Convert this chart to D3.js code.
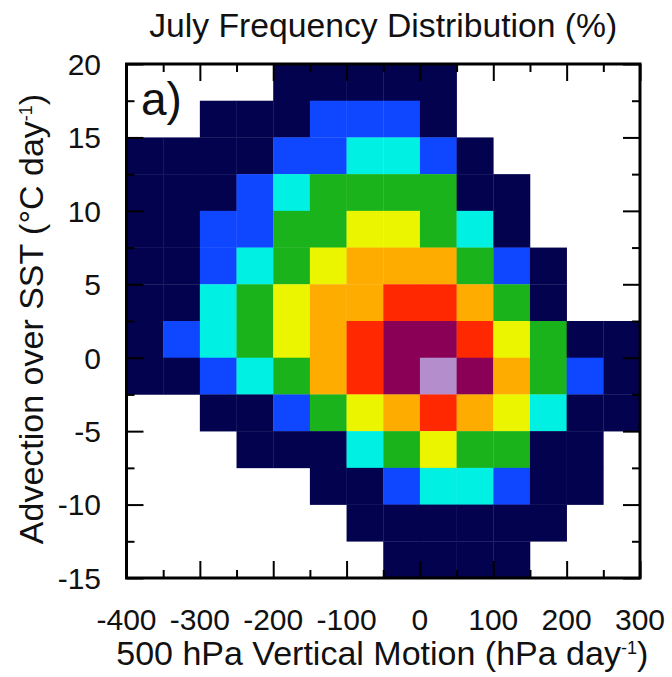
<!DOCTYPE html>
<html>
<head>
<meta charset="utf-8">
<script src="https://cdn.jsdelivr.net/npm/d3@7"></script>
<style>
  html, body { margin: 0; padding: 0; background: #fff; }
  svg { display: block; font-family: "Liberation Sans", Arial, Helvetica, sans-serif; }
</style>
</head>
<body>
<svg id="chart" width="672" height="677"></svg>
<script>
// Bin edges (lower edge of each bin)
const omegaBins = [-400, -350, -300, -250, -200, -150, -100, -50, 0, 50, 100, 150, 200, 250]; // hPa/day, width 50
const advBins = [17.5, 15, 12.5, 10, 7.5, 5, 2.5, 0, -2.5, -5, -7.5, -10, -12.5, -15];       // degC/day, height 2.5
const omegaStep = 50;
const advStep = 2.5;

// July joint frequency (%) per bin; rows follow advBins, columns follow omegaBins
const freqRows = [
  [0, 0, 0, 0, 0.06, 0.10, 0.12, 0.11, 0.07, 0, 0, 0, 0, 0],
  [0, 0, 0.05, 0.09, 0.18, 0.31, 0.38, 0.33, 0.16, 0, 0, 0, 0, 0],
  [0.04, 0.08, 0.12, 0.20, 0.34, 0.45, 0.60, 0.58, 0.36, 0.12, 0, 0, 0, 0],
  [0.06, 0.10, 0.19, 0.40, 0.66, 0.84, 0.92, 0.90, 0.78, 0.22, 0.06, 0, 0, 0],
  [0.07, 0.15, 0.32, 0.46, 0.82, 0.97, 1.12, 1.15, 0.93, 0.62, 0.14, 0, 0, 0],
  [0.06, 0.18, 0.44, 0.68, 0.88, 1.18, 1.38, 1.45, 1.32, 0.86, 0.35, 0.08, 0, 0],
  [0.08, 0.20, 0.62, 0.85, 1.10, 1.34, 1.48, 1.64, 1.60, 1.36, 0.81, 0.16, 0, 0],
  [0.05, 0.30, 0.57, 0.88, 1.16, 1.42, 1.66, 1.90, 1.96, 1.58, 1.08, 0.80, 0.14, 0.05],
  [0.04, 0.19, 0.41, 0.64, 0.94, 1.40, 1.70, 1.86, 2.14, 1.88, 1.33, 0.83, 0.28, 0.06],
  [0, 0, 0.12, 0.22, 0.38, 0.90, 1.06, 1.31, 1.52, 1.44, 1.12, 0.55, 0.15, 0.04],
  [0, 0, 0, 0.06, 0.13, 0.24, 0.56, 0.87, 1.03, 0.95, 0.79, 0.21, 0.07, 0],
  [0, 0, 0, 0, 0, 0.08, 0.20, 0.42, 0.63, 0.58, 0.31, 0.12, 0.04, 0],
  [0, 0, 0, 0, 0, 0, 0.07, 0.14, 0.20, 0.18, 0.10, 0.05, 0, 0],
  [0, 0, 0, 0, 0, 0, 0, 0.06, 0.09, 0.08, 0.04, 0, 0, 0]
];

// Shading levels (%) and colours
const levelBreaks = [0.25, 0.5, 0.75, 1.0, 1.25, 1.5, 1.75, 2.0];
const levelColors = ["#02024f", "#0f46ff", "#00f0e4", "#1bb31b", "#ecf500", "#ffac00", "#ff2800", "#8a0056", "#b48ecc"];

// Axis tick values
const xMajorTicks = [-400, -300, -200, -100, 0, 100, 200, 300];
const xMinorTicks = [-350, -250, -150, -50, 50, 150, 250];
const yMajorTicks = [-15, -10, -5, 0, 5, 10, 15, 20];
const yMinorTicks = [-12.5, -7.5, -2.5, 2.5, 7.5, 12.5, 17.5];

const svg = d3.select("#chart");
const plotLeft = 126.5, plotRight = 640, plotTop = 64, plotBottom = 578;

const x = d3.scaleLinear().domain([-400, 300]).range([plotLeft, plotRight]);
const y = d3.scaleLinear().domain([-15, 20]).range([plotBottom, plotTop]);
const color = d3.scaleThreshold().domain(levelBreaks).range(levelColors);

// Cells
const cells = [];
freqRows.forEach((row, i) => {
  row.forEach((v, j) => {
    if (v > 0) cells.push({ om: omegaBins[j], adv: advBins[i], v });
  });
});

svg.append("g")
  .selectAll("rect")
  .data(cells)
  .join("rect")
  .attr("x", d => x(d.om))
  .attr("y", d => y(d.adv + advStep))
  .attr("width", d => x(d.om + omegaStep) - x(d.om) + 0.3)
  .attr("height", d => y(d.adv) - y(d.adv + advStep) + 0.3)
  .attr("fill", d => color(d.v));

// Inward ticks on all four sides
function styleTicks(g) {
  g.select(".domain").remove();
  g.selectAll(".tick line").attr("stroke", "#000").attr("stroke-width", 2);
}
const majorLen = 17, minorLen = 8;

svg.append("g").attr("transform", `translate(0,${plotBottom})`)
  .call(d3.axisBottom(x).tickValues(xMajorTicks).tickSize(-majorLen).tickFormat(""))
  .call(styleTicks);
svg.append("g").attr("transform", `translate(0,${plotBottom})`)
  .call(d3.axisBottom(x).tickValues(xMinorTicks).tickSize(-minorLen).tickFormat(""))
  .call(styleTicks);
svg.append("g").attr("transform", `translate(0,${plotTop})`)
  .call(d3.axisTop(x).tickValues(xMajorTicks).tickSize(-majorLen).tickFormat(""))
  .call(styleTicks);
svg.append("g").attr("transform", `translate(0,${plotTop})`)
  .call(d3.axisTop(x).tickValues(xMinorTicks).tickSize(-minorLen).tickFormat(""))
  .call(styleTicks);
svg.append("g").attr("transform", `translate(${plotLeft},0)`)
  .call(d3.axisLeft(y).tickValues(yMajorTicks).tickSize(-majorLen).tickFormat(""))
  .call(styleTicks);
svg.append("g").attr("transform", `translate(${plotLeft},0)`)
  .call(d3.axisLeft(y).tickValues(yMinorTicks).tickSize(-minorLen).tickFormat(""))
  .call(styleTicks);
svg.append("g").attr("transform", `translate(${plotRight},0)`)
  .call(d3.axisRight(y).tickValues(yMajorTicks).tickSize(-majorLen).tickFormat(""))
  .call(styleTicks);
svg.append("g").attr("transform", `translate(${plotRight},0)`)
  .call(d3.axisRight(y).tickValues(yMinorTicks).tickSize(-minorLen).tickFormat(""))
  .call(styleTicks);

// Frame
svg.append("rect")
  .attr("x", plotLeft).attr("y", plotTop)
  .attr("width", plotRight - plotLeft).attr("height", plotBottom - plotTop)
  .attr("fill", "none").attr("stroke", "#000").attr("stroke-width", 3);

// Tick labels
svg.append("g")
  .selectAll("text")
  .data(xMajorTicks)
  .join("text")
  .attr("x", d => x(d))
  .attr("y", 630)
  .attr("text-anchor", "middle")
  .attr("font-size", 30)
  .attr("fill", "#111")
  .text(d => d);

svg.append("g")
  .selectAll("text")
  .data(yMajorTicks)
  .join("text")
  .attr("x", 101)
  .attr("y", d => y(d))
  .attr("dy", "0.36em")
  .attr("text-anchor", "end")
  .attr("font-size", 30)
  .attr("fill", "#111")
  .text(d => d);

// Panel label
svg.append("text")
  .attr("x", 141).attr("y", 115)
  .attr("font-size", 46)
  .attr("fill", "#111")
  .text("a)");

// Title
svg.append("text")
  .attr("x", (plotLeft + plotRight) / 2).attr("y", 37)
  .attr("text-anchor", "middle")
  .attr("font-size", 33.7)
  .attr("fill", "#111")
  .text("July Frequency Distribution (%)");

// X axis title
const xt = svg.append("text")
  .attr("x", (plotLeft + plotRight) / 2 - 1).attr("y", 665)
  .attr("text-anchor", "middle")
  .attr("font-size", 34)
  .attr("fill", "#111");
xt.append("tspan").text("500 hPa Vertical Motion (hPa day");
xt.append("tspan").attr("font-size", 18).attr("dy", -11).text("-1");
xt.append("tspan").attr("dy", 11).text(")");

// Y axis title
const yt = svg.append("text")
  .attr("transform", `translate(43,${(plotTop + plotBottom) / 2 - 2}) rotate(-90)`)
  .attr("text-anchor", "middle")
  .attr("font-size", 34)
  .attr("fill", "#111");
yt.append("tspan").text("Advection over SST (°C day");
yt.append("tspan").attr("font-size", 18).attr("dy", -11).text("-1");
yt.append("tspan").attr("dy", 11).text(")");
</script>
</body>
</html>
